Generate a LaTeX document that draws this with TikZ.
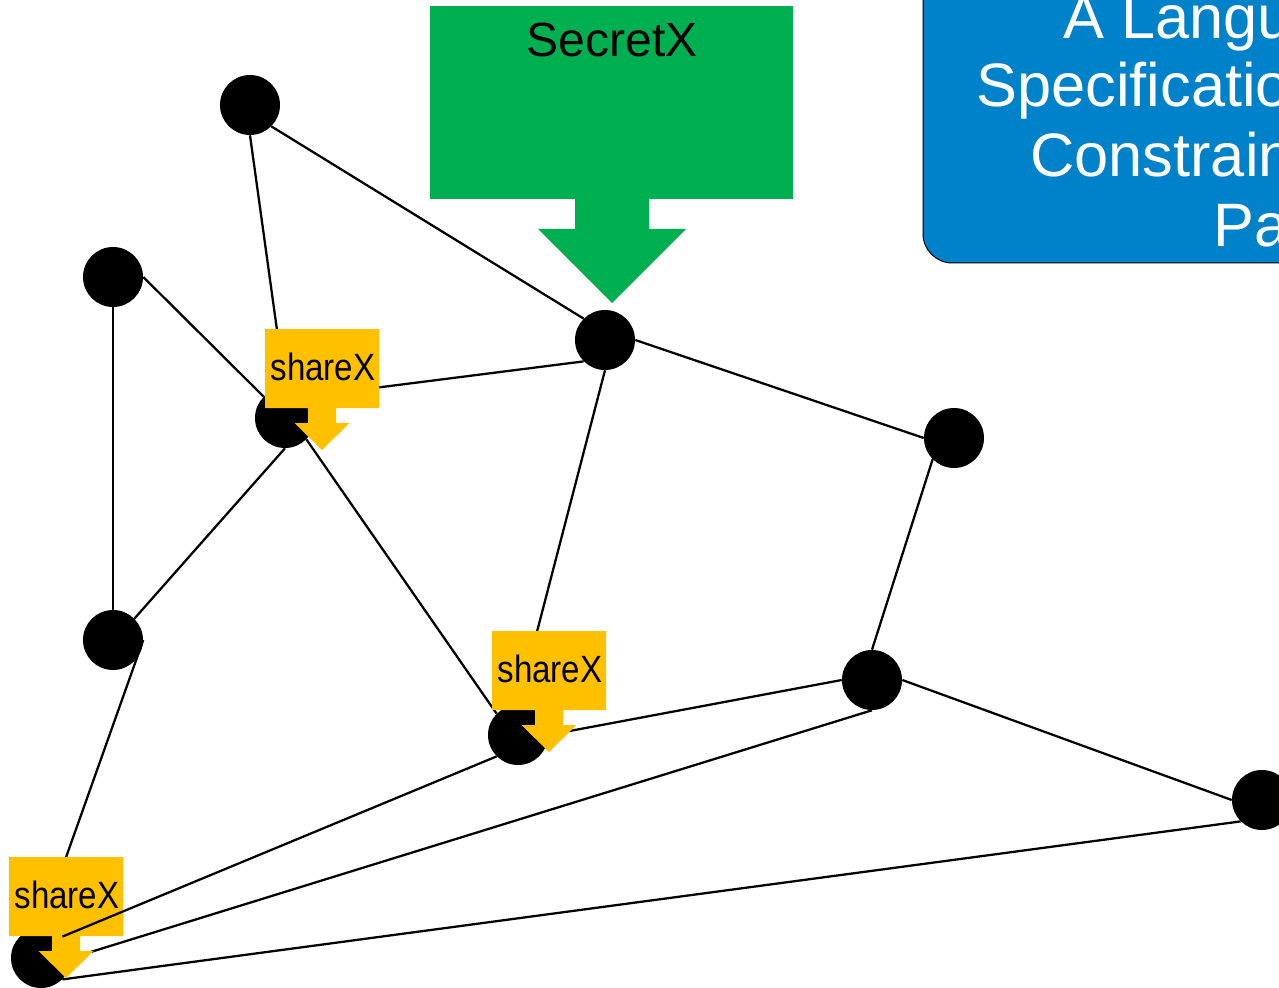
\documentclass[tikz,border=0pt]{standalone}
\usepackage{fontspec}
\setmainfont{Liberation Sans}
\definecolor{secretgreen}{RGB}{0,176,80}
\definecolor{shareyellow}{RGB}{255,192,0}
\definecolor{titleblue}{RGB}{0,130,202}
\begin{document}
\begin{tikzpicture}[x=0.75pt,y=-0.75pt,
  party/.style={circle,fill=black,minimum size=45pt,inner sep=0pt},
  link/.style={draw=black,line width=1.7pt},
  sharelabel/.style={anchor=base,inner sep=0pt,font=\fontsize{28.5}{34}\selectfont},
  titleline/.style={anchor=base west,inner sep=0pt,text=white,font=\fontsize{46}{53}\selectfont},
  sharex/.pic={
    \fill[shareyellow] (0,0) -- (114,0) -- (114,79) -- (71,79) -- (71,94)
      -- (84.5,94) -- (57,121) -- (29.5,94) -- (43,94) -- (43,79) -- (0,79) -- cycle;
    \node[sharelabel] (-txt) at (58,51) {\scalebox{0.87}[1]{shareX}};
  }]
\useasboundingbox (0,0) rectangle (1279,988);
\clip (0,0) rectangle (1279,988);

% parties of the network
\node[party] (A) at (250,105) {};
\node[party] (B) at (113,277) {};
\node[party] (C) at (285,418) {};
\node[party] (D) at (605,340) {};
\node[party] (E) at (954,438) {};
\node[party] (F) at (113,640) {};
\node[party] (G) at (518,735) {};
\node[party] (H) at (872,680) {};
\node[party] (I) at (1262,800) {};
\node[party] (J) at (41,958) {};

% links between parties
\draw[link] (A.south) -- (C.north);
\draw[link] (A.south east) -- (D.north west);
\draw[link] (B.east) -- (C.north west);
\draw[link] (B.south) -- (F.north);
\draw[link] (C.north east) -- (D.south west);
\draw[link] (C.south) -- (F.north east);
\draw[link] (C.south east) -- (G.north west);
\draw[link] (D.south) -- (G.north);
\draw[link] (D.east) -- (E.west);
\draw[link] (E.south west) -- (H.north);
\draw[link] (H.west) -- (G.east);
\draw[link] (H.east) -- (I.west);
\draw[link] (H.south) -- (J.east);
\draw[link] (I.south west) -- (J.south east);
\draw[link] (F.east) -- (J.north);

% secret source with its down arrow
\fill[secretgreen] (430,6) rectangle (793,199);
\fill[secretgreen] (575,198) -- (649,198) -- (649,229) -- (686,229) -- (612,303)
  -- (538,229) -- (575,229) -- cycle;
\node[anchor=base,inner sep=0pt,font=\fontsize{36}{43}\selectfont] (secret) at (612,57) {SecretX};

% title box
\draw[fill=titleblue,draw=black,line width=0.75pt,rounded corners=22pt]
  (923,-80) rectangle (1360,263);
\node[titleline] (t1) at (1063,39) {A Langu};
\node[titleline] (t2) at (976,107) {Specificatio};
\node[titleline] (t3) at (1030,177) {Constrain};
\node[titleline] (t4) at (1213,247) {Pa};

% share callouts
\pic (s1) at (265,329) {sharex};
\pic (s2) at (492,631) {sharex};
\pic (s3) at (9,857) {sharex};

% this link runs over the lower callout
\draw[link] (G.south west) -- (J.north east);
\end{tikzpicture}
\end{document}
